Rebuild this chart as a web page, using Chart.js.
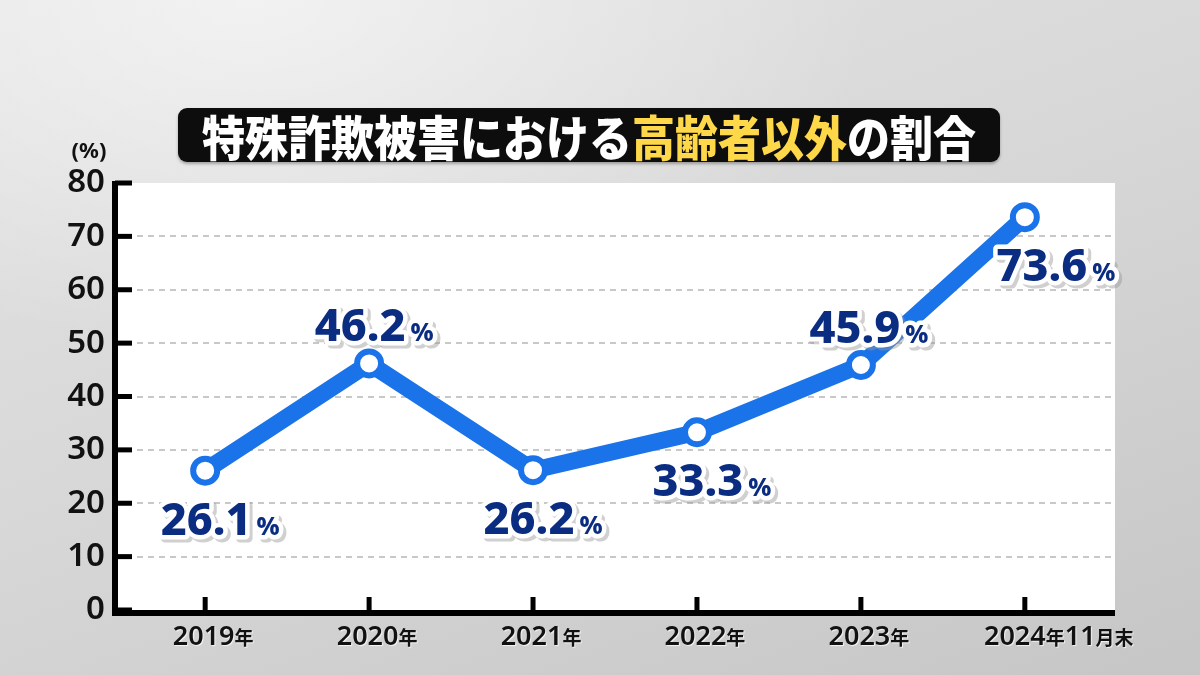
<!DOCTYPE html>
<html>
<head>
<meta charset="utf-8">
<script src="https://cdn.jsdelivr.net/npm/chart.js@4/dist/chart.umd.min.js"></script>
<style>
  html, body { margin: 0; padding: 0; }
  body {
    width: 1200px; height: 675px; overflow: hidden; position: relative;
    background:
      radial-gradient(ellipse 900px 500px at 250px 0px, rgba(255,255,255,0.55), rgba(255,255,255,0) 70%),
      linear-gradient(160deg, #e4e4e4 0%, #d8d8d8 45%, #c6c6c6 100%);
    font-family: "Noto Sans CJK JP", "Noto Sans", sans-serif;
  }
  #title {
    position: absolute; left: 178px; top: 108px; width: 822px; height: 54px;
    background: #0d0d0d; border-radius: 9px;
    box-shadow: 0 2px 3px rgba(0,0,0,0.3);
  }
  #title span.txt {
    display: block;
    color: #fff; font-weight: 900; font-size: 43px; line-height: 54px;
    text-align: center;
    transform: scaleY(1.12);
  }
  #title .hl { color: #ffd84a; }
  canvas { position: absolute; left: 0; top: 0; }
</style>
</head>
<body>
<canvas id="js--chart" width="1200" height="675"></canvas>
<div id="title"><span class="txt">特殊詐欺被害における<span class="hl">高齢者以外</span>の割合</span></div>
<script>
const years = ["2019", "2020", "2021", "2022", "2023", "2024"];
const suffixes = ["年", "年", "年", "年", "年", "年11月末"];
const share = [26.1, 46.2, 26.2, 33.3, 45.9, 73.6];
const yTicks = [0, 10, 20, 30, 40, 50, 60, 70, 80];
// where each value label sits: "above" or "below" the point, with x shift
const labelSide = ["below", "above", "below", "below", "above", "below"];
const labelShift = [15, 5, 10, 15, 8, 31];

const blue = '#1a73e8';
const navy = '#0a2d82';
const numFont = '600 27px "Noto Sans", sans-serif';
const kanjiFont = 'bold 19px "Noto Sans CJK JP", sans-serif';

// white plot, black axes, inward ticks, labels
const decor = {
    id: 'decor',
    beforeDraw(chart) {
        const a = chart.chartArea, c = chart.ctx;
        c.save();
        c.fillStyle = '#ffffff';
        c.fillRect(a.left, a.top, a.right - a.left, a.bottom - a.top);
        c.restore();
    },
    afterDatasetsDraw(chart) {
        const a = chart.chartArea, c = chart.ctx;
        const xs = chart.scales.x, ys = chart.scales.y;
        c.save();
        c.strokeStyle = '#000';
        c.lineCap = 'butt';
        // y ticks
        c.lineWidth = 5;
        yTicks.forEach(function (v) {
            const y = ys.getPixelForValue(v);
            c.beginPath(); c.moveTo(a.left, y); c.lineTo(a.left + 17, y); c.stroke();
        });
        // x ticks
        years.forEach(function (yr, i) {
            const x = xs.getPixelForValue(i);
            c.beginPath(); c.moveTo(x, a.bottom); c.lineTo(x, a.bottom - 13); c.stroke();
        });
        // axes
        c.lineWidth = 6;
        c.beginPath();
        c.moveTo(a.left, a.top - 2);
        c.lineTo(a.left, a.bottom + 3);
        c.lineTo(a.right, a.bottom + 3);
        c.stroke();

        // (%) unit
        c.fillStyle = '#111';
        c.font = 'bold 22px "Noto Sans", sans-serif';
        c.textAlign = 'center';
        c.textBaseline = 'alphabetic';
        c.fillText('(%)', 89, 158);

        // x labels
        years.forEach(function (yr, i) {
            const x = xs.getPixelForValue(i);
            c.font = numFont;
            const w1 = c.measureText(yr).width;
            const parts = [];
            const s = suffixes[i];
            for (let k = 0; k < s.length; k++) {
                const ch = s[k];
                const isDigit = ch >= '0' && ch <= '9';
                parts.push({ t: ch, f: isDigit ? numFont : kanjiFont });
            }
            let total = w1;
            parts.forEach(function (p) { c.font = p.f; p.w = c.measureText(p.t).width; total += p.w; });
            let cx = (i === years.length - 1) ? x - w1 / 2 - 10 : x - total / 2 + 8;
            const base = 645;
            c.fillStyle = '#111';
            c.textAlign = 'left';
            c.shadowColor = 'rgba(255,255,255,0.8)';
            c.shadowOffsetX = 1; c.shadowOffsetY = 1; c.shadowBlur = 1;
            c.font = numFont;
            c.fillText(yr, cx, base);
            cx += w1;
            parts.forEach(function (p) { c.font = p.f; c.fillText(p.t, cx, base); cx += p.w; });
        });
        c.restore();
    },
    afterDraw(chart) {
        const c = chart.ctx;
        const meta = chart.getDatasetMeta(0);
        c.save();
        c.textBaseline = 'alphabetic';
        c.textAlign = 'left';
        meta.data.forEach(function (pt, i) {
            const txt = share[i].toFixed(1);
            const bigF = '800 45px "Noto Sans", sans-serif';
            const smallF = '800 25px "Noto Sans", sans-serif';
            c.font = bigF;
            const w1 = c.measureText(txt).width;
            c.font = smallF;
            const w2 = c.measureText('%').width + 5;
            const cx = pt.x + labelShift[i];
            const base = labelSide[i] === 'above' ? pt.y - 22 : pt.y + 64;
            const x0 = cx - (w1 + w2) / 2;
            [[bigF, txt, x0], [smallF, '%', x0 + w1 + 5]].forEach(function (p) {
                c.font = p[0];
                c.lineJoin = 'round';
                c.strokeStyle = 'rgba(150,150,150,0.45)';
                c.lineWidth = 9;
                c.strokeText(p[1], p[2] + 3, base + 3);
                c.strokeStyle = '#ffffff';
                c.lineWidth = 9;
                c.strokeText(p[1], p[2], base);
                c.fillStyle = navy;
                c.fillText(p[1], p[2], base);
            });
        });
        c.restore();
    }
};

const config = {
    type: 'line',
    data: {
        datasets: [{
            data: share.map(function (v, i) { return { x: i, y: v }; }),
            borderColor: blue,
            borderWidth: 17,
            pointRadius: 12,
            pointBorderWidth: 6,
            pointBackgroundColor: '#ffffff',
            pointBorderColor: blue,
            tension: 0,
            borderJoinStyle: 'round'
        }]
    },
    options: {
        responsive: false,
        animation: false,
        layout: { padding: { left: 0, top: 183, right: 85, bottom: 0 } },
        plugins: { legend: { display: false }, tooltip: { enabled: false } },
        scales: {
            x: {
                type: 'linear', min: -0.55, max: 5.55,
                grid: { display: false },
                border: { display: false },
                ticks: { display: false },
                afterFit: function (s) { s.height = 65; }
            },
            y: {
                min: 0, max: 80,
                afterFit: function (s) { s.width = 115; },
                afterBuildTicks: function (s) { s.ticks = yTicks.map(function (v) { return { value: v }; }); },
                border: { display: false, dash: [6, 5] },
                grid: {
                    drawTicks: false,
                    lineWidth: 2,
                    color: function (ctx) { return (ctx.tick && (ctx.tick.value === 0 || ctx.tick.value === 80)) ? 'rgba(0,0,0,0)' : '#c8c8c8'; }
                },
                ticks: {
                    padding: 10,
                    color: '#111',
                    font: { family: '"Noto Sans", sans-serif', size: 33, weight: '600' }
                }
            }
        }
    },
    plugins: [decor]
};

const chart = new Chart(document.getElementById("js--chart"), config);
</script>
</body>
</html>
